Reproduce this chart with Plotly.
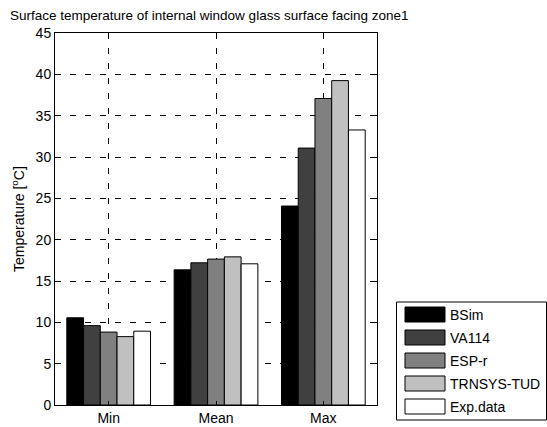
import plotly.graph_objects as go

categories = ["Min", "Mean", "Max"]
series_names = ["BSim", "VA114", "ESP-r", "TRNSYS-TUD", "Exp.data"]
bsim = [10.55, 16.35, 24.07]
va114 = [9.6, 17.2, 31.08]
espr = [8.82, 17.65, 37.08]
trnsys = [8.27, 17.92, 39.24]
expdata = [8.93, 17.08, 33.27]
series_values = [bsim, va114, espr, trnsys, expdata]
colors = ["#000000", "#404040", "#808080", "#c0c0c0", "#ffffff"]
y_ticks = [0, 5, 10, 15, 20, 25, 30, 35, 40, 45]

W, H = 547, 427
L, R, T, B = 55, 377, 33, 405  # plot area pixels
FAM = "Liberation Sans, Arial, sans-serif"

fig = go.Figure()
xs = list(range(1, len(categories) + 1))
for name, vals, c in zip(series_names, series_values, colors):
    fig.add_trace(go.Bar(x=xs, y=vals, name=name, marker=dict(color=c, line=dict(color="black", width=1)),
                         showlegend=False, hoverinfo="skip"))

font = dict(family=FAM, size=14, color="black")

def px_x(p):
    return (p - L) / (R - L)

def px_y(p):
    return (B - p) / (B - T)

shapes = []
annotations = []
# legend box
shapes.append(dict(type="rect", xref="paper", yref="paper", x0=px_x(396.5), x1=px_x(546.5), y0=px_y(302), y1=px_y(420),
                   line=dict(color="black", width=1), fillcolor="white", layer="above"))
for i, (name, c) in enumerate(zip(series_names, colors)):
    cy = 314.5 + 23 * i
    shapes.append(dict(type="rect", xref="paper", yref="paper", x0=px_x(405), x1=px_x(445), y0=px_y(cy - 7.5), y1=px_y(cy + 7.5),
                       line=dict(color="black", width=1), fillcolor=c, layer="above"))
    annotations.append(dict(text=name, xref="paper", yref="paper", x=px_x(448), y=px_y(cy), xanchor="left", yanchor="middle",
                            showarrow=False, font=font))

annotations.append(dict(text="Temperature [<sup>o</sup>C]", xref="paper", yref="paper", x=px_x(18), y=0.5, textangle=-90,
                        xanchor="center", yanchor="middle", showarrow=False, font=font))

fig.update_layout(
    width=W, height=H,
    margin=dict(l=L, r=W - R, t=T, b=H - B, autoexpand=False),
    paper_bgcolor="white", plot_bgcolor="white",
    barmode="group", bargap=0.22, bargroupgap=0,
    font=font,
    title=dict(text="Surface temperature of internal window glass surface facing zone1", x=10 / W, xanchor="left",
               xref="container", y=1 - 15 / H, yanchor="middle", yref="container", font=dict(family=FAM, size=13.5, color="black")),
    shapes=shapes, annotations=annotations,
    xaxis=dict(range=[0.5, 3.5], tickvals=xs, ticktext=categories, showline=True, linecolor="black", linewidth=1,
               mirror="ticks", ticks="inside", ticklen=4, tickcolor="black", showgrid=True, gridcolor="black",
               griddash="6px,9px", gridwidth=1, zeroline=False, tickfont=font, automargin=False, fixedrange=True),
    yaxis=dict(range=[0, 45], tickvals=y_ticks, showline=True, linecolor="black", linewidth=1,
               mirror="ticks", ticks="inside", ticklen=4, tickcolor="black", showgrid=True, gridcolor="black",
               griddash="6px,9px", gridwidth=1, zeroline=False, tickfont=font, automargin=False, fixedrange=True),
)

fig.write_html("out.html", config={"displayModeBar": False},
               post_script="document.body.style.margin='0';document.body.style.padding='0';")
